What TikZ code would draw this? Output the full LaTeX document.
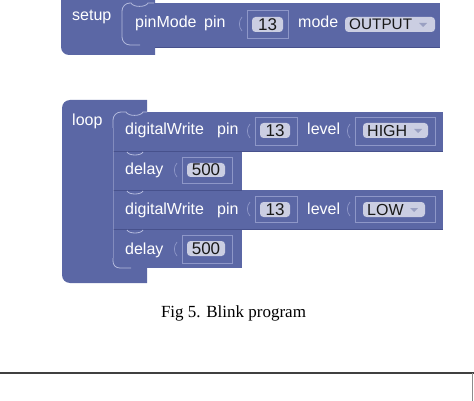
\documentclass[tikz,border=0pt]{standalone}
\usepackage{fontspec}
\setmainfont{Liberation Serif}
\newfontfamily\blkfam{Liberation Sans}
\newcommand\blkf{\blkfam\fontsize{16}{19}\selectfont}
\newcommand\valf{\blkfam\fontsize{16}{18}\selectfont}
\newcommand\numf{\blkfam\fontsize{17}{19}\selectfont}
\definecolor{blockc}{HTML}{5B67A5}
\definecolor{blockdark}{HTML}{47518C}
\definecolor{blocklight}{HTML}{B4BADD}
\definecolor{sockc}{HTML}{8E97C8}
\definecolor{valc}{HTML}{CBCEE2}
\definecolor{arrowc}{HTML}{9AA0C2}
\begin{document}
\begin{tikzpicture}[x=1pt,y=-1pt,
  lbl/.style={text=white,font=\blkf,anchor=base west,inner sep=0pt},
  vtxt/.style={text=black!90,font=\valf,inner sep=0pt},
  ntxt/.style={text=black!90,font=\numf,inner sep=0pt},
  vbox/.style={fill=valc,rounded corners=3.5pt},
  hl/.style={draw=blocklight,line width=0.8pt},
  hlfaint/.style={draw=blocklight,draw opacity=0.45,line width=0.7pt},
  sepl/.style={draw=blockdark,line width=0.9pt},
  sock/.style={draw=sockc,line width=0.7pt},
  arr/.style={fill=arrowc},
  blk/.style={fill=blockc}]
\useasboundingbox (0,0) rectangle (474,401);

% ---------- setup block ----------
\fill[blk] (61,0) -- (155,0) -- (155,55) -- (69,55) .. controls (64.6,55) and (61,51.4) .. (61,47) -- cycle;
\fill[blk] (122,3) rectangle (440,47);
\draw[hl] (140,45) -- (130,45) .. controls (125.6,45) and (122,41.4) .. (122,37) -- (122,11)
  .. controls (122,6.6) and (125.6,3) .. (130,3) -- (131,3) .. controls (133,7.5) and (146,7.5) .. (148,3) -- (154,3);
\draw[sepl] (155,47) -- (440,47);

\node[lbl] (setup) at (72,21) {setup};
\node[lbl] (pinmode) at (135,28) {pinMode};
\node[lbl] (pin0) at (204,28) {pin};
\draw[sock] (247,10) rectangle (288,38);
\draw[sock] (242,17) .. controls (238.5,21) and (238.5,27) .. (242,31);
\fill[vbox] (252,17) rectangle (283,32);
\node[ntxt] (v0) at (267.5,24.5) {13};
\node[lbl] (mode) at (298,28) {mode};
\fill[vbox] (345,17) rectangle (435,32);
\node[vtxt,anchor=west,font=\blkfam\fontsize{15.3}{18}\selectfont] (out) at (349,24.5) {OUTPUT};
\fill[arr] (419,23) -- (427,23) -- (423,27) -- cycle;

% ---------- loop block ----------
\fill[blk] (62,108) .. controls (62,103.6) and (65.6,100) .. (70,100) -- (147,100) -- (147,283)
  -- (70,283) .. controls (65.6,283) and (62,279.4) .. (62,275) -- cycle;
\fill[blk] (113,112) rectangle (443,151);
\fill[blk] (113,151) rectangle (242,190);
\fill[blk] (113,190) rectangle (443,229);
\fill[blk] (113,229) rectangle (242,268);

% separators
\draw[sepl] (113,151) -- (242,151);
\draw[sepl] (113,190) -- (242,190);
\draw[sepl] (113,229) -- (242,229);
\draw[sepl] (242,151) -- (443,151);
\draw[sepl] (242,229) -- (443,229);
\draw[hl] (127,152) .. controls (129,156) and (141,156) .. (143,152);
\draw[hl] (127,191) .. controls (129,195) and (141,195) .. (143,191);
\draw[hl] (127,230) .. controls (129,234) and (141,234) .. (143,230);
% left highlight of statement column
\draw[hlfaint] (113,128) -- (113,258);
\draw[hl] (113,128) -- (113,120) .. controls (113,115.6) and (116.6,112) .. (121,112) -- (126,112)
  .. controls (128,116.5) and (141,116.5) .. (143,112) -- (147,112);
\draw[hl] (113,258) -- (113,261) .. controls (113,265) and (115.5,268) .. (120,268) -- (131,268);

\node[lbl] (loop) at (72,126) {loop};

% digitalWrite 1
\node[lbl] (dw1) at (125,135) {digitalWrite};
\node[lbl] (pin1) at (217,135) {pin};
\draw[sock] (255,117) rectangle (297,145);
\draw[sock] (250,124) .. controls (246.5,128) and (246.5,134) .. (250,138);
\fill[vbox] (260,123) rectangle (290,138);
\node[ntxt] (v1) at (275,130.5) {13};
\node[lbl] (lev1) at (307,135) {level};
\draw[sock] (355,117) rectangle (435,145);
\draw[sock] (350,124) .. controls (346.5,128) and (346.5,134) .. (350,138);
\fill[vbox] (363,123) rectangle (428,138);
\node[vtxt,anchor=west] (high) at (367,130.5) {HIGH};
\fill[arr] (414,129) -- (422,129) -- (418,133) -- cycle;

% delay 1
\node[lbl] (d1) at (125,175) {delay};
\draw[sock] (182,157) rectangle (232,183);
\draw[sock] (177,163) .. controls (173.5,167) and (173.5,173) .. (177,177);
\fill[vbox] (187,163) rectangle (225,177);
\node[ntxt] (v2) at (206,170) {500};

% digitalWrite 2
\node[lbl] (dw2) at (125,214.5) {digitalWrite};
\node[lbl] (pin2) at (217,214.5) {pin};
\draw[sock] (255,196) rectangle (297,222);
\draw[sock] (250,202) .. controls (246.5,206) and (246.5,212) .. (250,216);
\fill[vbox] (260,202) rectangle (290,217);
\node[ntxt] (v3) at (275,209.5) {13};
\node[lbl] (lev2) at (307,214.5) {level};
\draw[sock] (355,196) rectangle (435,222);
\draw[sock] (350,202) .. controls (346.5,206) and (346.5,212) .. (350,216);
\fill[vbox] (363,202) rectangle (425,217);
\node[vtxt,anchor=west] (low) at (367,209.5) {LOW};
\fill[arr] (410,208) -- (418,208) -- (414,212) -- cycle;

% delay 2
\node[lbl] (d2) at (125,254.5) {delay};
\draw[sock] (182,235) rectangle (232,263);
\draw[sock] (177,242) .. controls (173.5,246) and (173.5,252) .. (177,256);
\fill[vbox] (187,241) rectangle (225,256);
\node[ntxt] (v4) at (206,248.5) {500};

% ---------- caption ----------
\node[font=\fontsize{17}{20}\selectfont,anchor=base,inner sep=0pt] (cap) at (233.5,317) {Fig 5. Blink program};

% ---------- frame below ----------
\draw[line width=1.5pt,color=black!75] (0,373) -- (474,373);
\draw[line width=1pt,color=black!45] (472.5,373) -- (472.5,401);
\end{tikzpicture}
\end{document}
